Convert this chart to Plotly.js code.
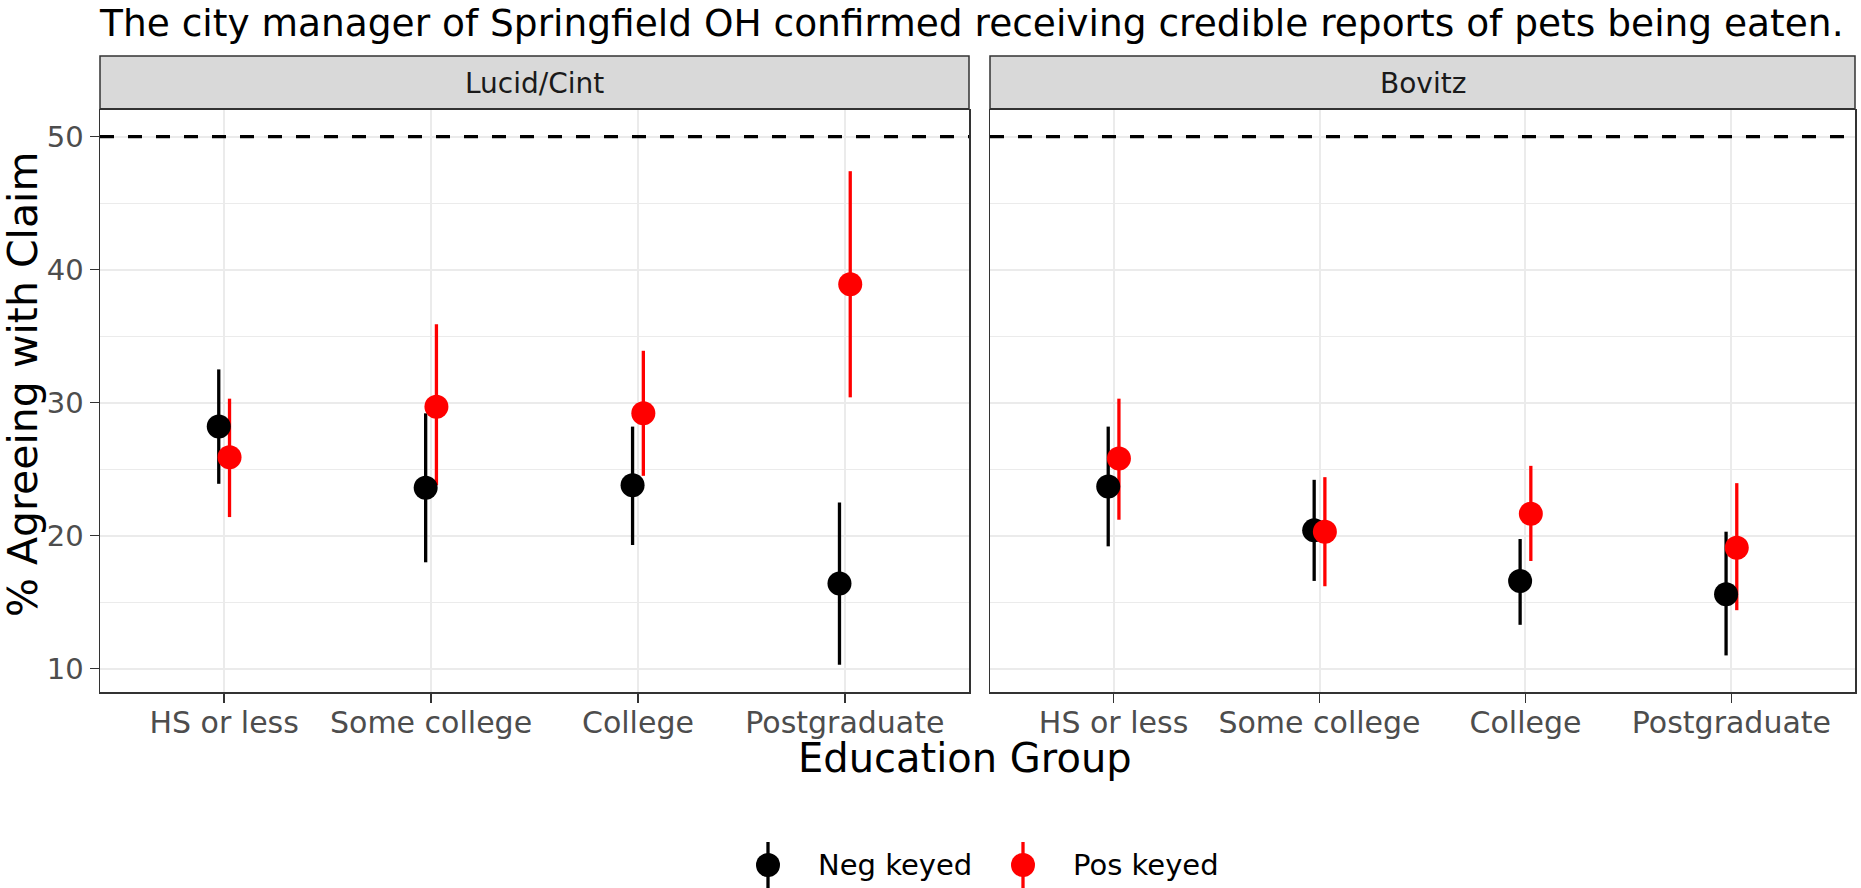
<!DOCTYPE html>
<html>
<head>
<meta charset="utf-8">
<script src="https://cdn.plot.ly/plotly-3.0.1.min.js"></script>
<style>
  html, body { margin: 0; padding: 0; background: #fff; }
  #chart { width: 1861px; height: 888px; }
</style>
</head>
<body>
<div id="chart"></div>
<script>
// ---- data ----
const categories = ["HS or less", "Some college", "College", "Postgraduate"];
const panels = ["Lucid/Cint", "Bovitz"];
const seriesNames = ["Neg keyed", "Pos keyed"];
const referenceLine = 50;

const lucidNeg   = [28.2, 23.6, 23.8, 16.4];
const lucidNegLo = [23.9, 18.0, 19.3, 10.3];
const lucidNegHi = [32.5, 29.2, 28.2, 22.5];
const lucidPos   = [25.9, 29.7, 29.2, 38.9];
const lucidPosLo = [21.4, 23.8, 24.5, 30.4];
const lucidPosHi = [30.3, 35.9, 33.9, 47.4];

const bovitzNeg   = [23.7, 20.4, 16.6, 15.6];
const bovitzNegLo = [19.2, 16.6, 13.3, 11.0];
const bovitzNegHi = [28.2, 24.2, 19.75, 20.3];
const bovitzPos   = [25.8, 20.3, 21.65, 19.1];
const bovitzPosLo = [21.2, 16.2, 18.1, 14.4];
const bovitzPosHi = [30.3, 24.4, 25.25, 23.95];

// ---- styling ----
const COLORS = ["#000000", "#FF0000"];
const DODGE = 0.026;
const FONT = "DejaVu Sans, Liberation Sans, sans-serif";
const MARKER = 24;
const LINEW = 3.3;

const panelData = [
  [[lucidNeg, lucidNegLo, lucidNegHi], [lucidPos, lucidPosLo, lucidPosHi]],
  [[bovitzNeg, bovitzNegLo, bovitzNegHi], [bovitzPos, bovitzPosLo, bovitzPosHi]]
];

const xPos = (s) => categories.map((c, i) => i + 1 + (s === 0 ? -DODGE : DODGE));

const traces = [];
// ranges first (all), then points (all), like geom_pointrange
panelData.forEach((pd, p) => {
  pd.forEach((ser, s) => {
    const [m, lo, hi] = ser;
    traces.push({
      type: "scatter", mode: "markers",
      x: xPos(s), y: m,
      xaxis: p === 0 ? "x" : "x2", yaxis: p === 0 ? "y" : "y2",
      marker: { size: MARKER, color: COLORS[s], opacity: 0 },
      error_y: {
        type: "data", symmetric: false,
        array: hi.map((v, i) => v - m[i]),
        arrayminus: lo.map((v, i) => m[i] - v),
        color: COLORS[s], thickness: LINEW, width: 0
      },
      showlegend: false, hoverinfo: "skip"
    });
  });
});
panelData.forEach((pd, p) => {
  pd.forEach((ser, s) => {
    traces.push({
      type: "scatter", mode: "markers",
      x: xPos(s), y: ser[0], name: seriesNames[s],
      xaxis: p === 0 ? "x" : "x2", yaxis: p === 0 ? "y" : "y2",
      marker: { size: MARKER, color: COLORS[s], line: { width: 0 } },
      showlegend: false
    });
  });
});

const W = 1861, H = 888;
const M = { l: 100, r: 6, t: 110, b: 196 };
const plotW = W - M.l - M.r, plotH = H - M.t - M.b;
const px2x = (px) => (px - M.l) / plotW;
const px2y = (py) => (H - M.b - py) / plotH;

const leftDom = [0, 869 / plotW];
const rightDom = [890 / plotW, 1];

const yRange = [8.25, 52.0];
const xRange = [0.4, 4.6];

const xaxisBase = {
  range: xRange, tickmode: "array",
  tickvals: categories.map((c, i) => i + 1), ticktext: categories,
  showgrid: true, gridcolor: "#EBEBEB", gridwidth: 2,
  zeroline: false, showline: true, mirror: true, linecolor: "#333333", linewidth: 1.5,
  ticks: "outside", ticklen: 9, tickwidth: 1.5, tickcolor: "#333333",
  ticklabelstandoff: -6,
  tickfont: { family: FONT, size: 30, color: "#4D4D4D" }, fixedrange: true
};
const yaxisBase = {
  range: yRange, tickmode: "linear", tick0: 10, dtick: 10,
  showgrid: true, gridcolor: "#EBEBEB", gridwidth: 2,
  minor: { tick0: 5, dtick: 5, showgrid: true, gridcolor: "#EBEBEB", gridwidth: 1.1, ticks: "" },
  zeroline: false, showline: true, mirror: true, linecolor: "#333333", linewidth: 1.5,
  ticks: "outside", ticklen: 9, tickwidth: 1.5, tickcolor: "#333333",
  tickfont: { family: FONT, size: 29, color: "#4D4D4D" }, fixedrange: true
};

const stripTop = px2y(56);
const shapes = [];
const annotations = [];
[["x", "y"], ["x2", "y2"]].forEach(([xa, ya], p) => {
  shapes.push({
    type: "line", xref: xa + " domain", yref: ya, x0: 0, x1: 1,
    y0: referenceLine, y1: referenceLine,
    line: { color: "#000000", width: 3.2, dash: "14px,14px" }, layer: "above"
  });
  shapes.push({
    type: "rect", xref: xa + " domain", yref: "paper", x0: 0, x1: 1,
    y0: 1.002, y1: stripTop, fillcolor: "#D9D9D9",
    line: { color: "#333333", width: 1.5 }, layer: "above"
  });
  const dom = p === 0 ? leftDom : rightDom;
  annotations.push({
    text: panels[p], xref: "paper", yref: "paper",
    x: (dom[0] + dom[1]) / 2, y: (1 + stripTop) / 2, xanchor: "center", yanchor: "middle",
    showarrow: false, font: { family: FONT, size: 28, color: "#1A1A1A" }
  });
});

// axis titles
annotations.push({
  text: "Education Group", xref: "paper", yref: "paper", x: 0.493, y: px2y(758),
  xanchor: "center", yanchor: "middle", showarrow: false,
  font: { family: FONT, size: 40, color: "#000000" }
});
annotations.push({
  text: "% Agreeing with Claim", xref: "paper", yref: "paper", x: px2x(23), y: px2y(385),
  xanchor: "center", yanchor: "middle", textangle: -90, showarrow: false,
  font: { family: FONT, size: 41, color: "#000000" }
});

// legend (pointrange glyphs)
const legY = px2y(865);
const legMarkX = [px2x(768), px2x(1023)];
const legTextX = [px2x(816), px2x(1071)];
seriesNames.forEach((nm, s) => {
  shapes.push({
    type: "line", xref: "paper", yref: "paper", ysizemode: "pixel", yanchor: legY,
    x0: legMarkX[s], x1: legMarkX[s], y0: -23, y1: 23,
    line: { color: COLORS[s], width: LINEW }
  });
  shapes.push({
    type: "circle", xref: "paper", yref: "paper", xsizemode: "pixel", ysizemode: "pixel",
    xanchor: legMarkX[s], yanchor: legY, x0: -12, x1: 12, y0: -12, y1: 12,
    fillcolor: COLORS[s], line: { width: 0 }
  });
  annotations.push({
    text: nm, xref: "paper", yref: "paper", x: legTextX[s], y: legY,
    xanchor: "left", yanchor: "middle", showarrow: false,
    font: { family: FONT, size: 29, color: "#000000" }
  });
});

const layout = {
  width: W, height: H, margin: M,
  paper_bgcolor: "#FFFFFF", plot_bgcolor: "#FFFFFF",
  showlegend: false,
  title: {
    text: "The city manager of Springfield OH confirmed receiving credible reports of pets being eaten.",
    x: 0, xref: "paper", xanchor: "left", y: 1 - 23 / H, yref: "container", yanchor: "middle",
    font: { family: FONT, size: 37.5, color: "#000000" }
  },
  xaxis: Object.assign({}, xaxisBase, { domain: leftDom, anchor: "y" }),
  xaxis2: Object.assign({}, xaxisBase, { domain: rightDom, anchor: "y2" }),
  yaxis: Object.assign({}, yaxisBase, { domain: [0, 1], anchor: "x" }),
  yaxis2: Object.assign({}, yaxisBase, { domain: [0, 1], anchor: "x2", showticklabels: false, ticks: "" }),
  shapes: shapes,
  annotations: annotations
};

Plotly.newPlot("chart", traces, layout, { staticPlot: true, displayModeBar: false });
</script>
</body>
</html>
